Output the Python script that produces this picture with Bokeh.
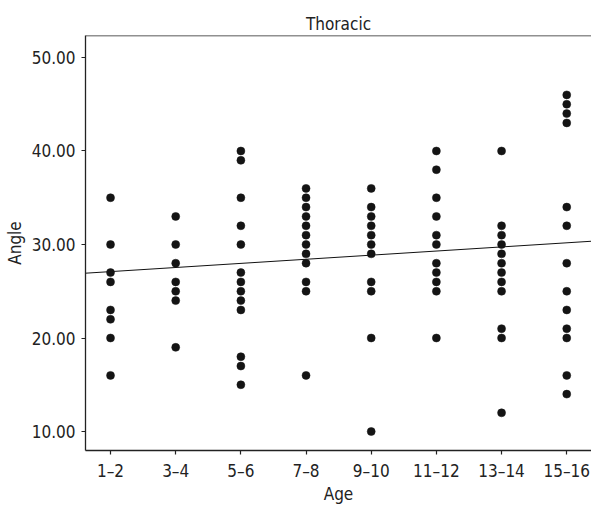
import numpy as np
from bokeh.plotting import figure
from bokeh.models import FixedTicker, Span, NumeralTickFormatter
from bokeh.embed import file_html
from bokeh.resources import INLINE

FONT = "DejaVu Sans Condensed"

age_groups = ["1–2", "3–4", "5–6", "7–8", "9–10", "11–12", "13–14", "15–16"]
angles_1_2 = [35, 30, 27, 26, 23, 22, 20, 16]
angles_3_4 = [33, 30, 28, 26, 25, 24, 19]
angles_5_6 = [40, 39, 35, 32, 30, 27, 26, 25, 24, 23, 18, 17, 15]
angles_7_8 = [36, 35, 34, 33, 32, 31, 30, 29, 28, 26, 25, 16]
angles_9_10 = [36, 34, 33, 32, 31, 30, 29, 26, 25, 20, 10]
angles_11_12 = [40, 38, 35, 33, 31, 30, 28, 27, 26, 25, 20]
angles_13_14 = [40, 32, 31, 30, 29, 28, 27, 26, 25, 21, 20, 12]
angles_15_16 = [46, 45, 44, 43, 34, 32, 28, 25, 23, 21, 20, 16, 14]
y_ticks = [10, 20, 30, 40, 50]
# fitted trend line (angle = intercept + slope * group index)
fit_intercept = 26.66
fit_slope = 0.44

groups = [angles_1_2, angles_3_4, angles_5_6, angles_7_8,
          angles_9_10, angles_11_12, angles_13_14, angles_15_16]
xs, ys = [], []
for i, g in enumerate(groups):
    xs += [i + 1] * len(g)
    ys += g

x0, x1 = 0.616, 8.38
y0, y1 = 7.97, 52.35

p = figure(width=591, height=506, output_backend="svg", toolbar_location=None,
           x_range=(x0, x1), y_range=(y0, y1),
           min_border_left=85, min_border_right=0, min_border_top=35,
           min_border_bottom=56)
p.title.text = "Thoracic"
p.title.align = "center"
p.title.text_font = FONT
p.title.text_font_size = "17px"
p.title.text_font_style = "normal"
p.title.text_color = "#222222"
p.title.standoff = 4

p.grid.visible = False
p.outline_line_color = None
p.background_fill_color = "white"
p.border_fill_color = "white"

lx = np.array([x0, x1])
p.line(lx, fit_intercept + fit_slope * lx, line_color="#111111", line_width=1)

p.scatter(xs, ys, size=8, fill_color="#141414", line_color="#141414", line_width=0.5)

p.add_layout(Span(location=y1, dimension="width", line_color="#222222", line_width=1.3))

for ax in (p.xaxis[0], p.yaxis[0]):
    ax.axis_line_color = "#222222"
    ax.axis_line_width = 1.3
    ax.major_tick_line_color = "#222222"
    ax.major_tick_line_width = 1.2
    ax.major_tick_out = 4
    ax.major_tick_in = 0
    ax.minor_tick_line_color = None
    ax.major_label_text_font = FONT
    ax.major_label_text_font_size = "17px"
    ax.major_label_text_color = "#222222"
    ax.axis_label_text_font = FONT
    ax.axis_label_text_font_size = "17px"
    ax.axis_label_text_font_style = "normal"
    ax.axis_label_text_color = "#222222"

p.xaxis.ticker = FixedTicker(ticks=list(range(1, len(age_groups) + 1)))
p.xaxis.major_label_overrides = {i + 1: lab for i, lab in enumerate(age_groups)}
p.xaxis.axis_label = "Age"
p.xaxis.major_label_standoff = 6
p.xaxis.axis_label_standoff = 0

p.yaxis.ticker = FixedTicker(ticks=y_ticks)
p.yaxis.formatter = NumeralTickFormatter(format="0.00")
p.yaxis.axis_label = "Angle"
p.yaxis.major_label_standoff = 6
p.yaxis.axis_label_standoff = 4

open("out.html", "w").write(file_html(p, INLINE))
